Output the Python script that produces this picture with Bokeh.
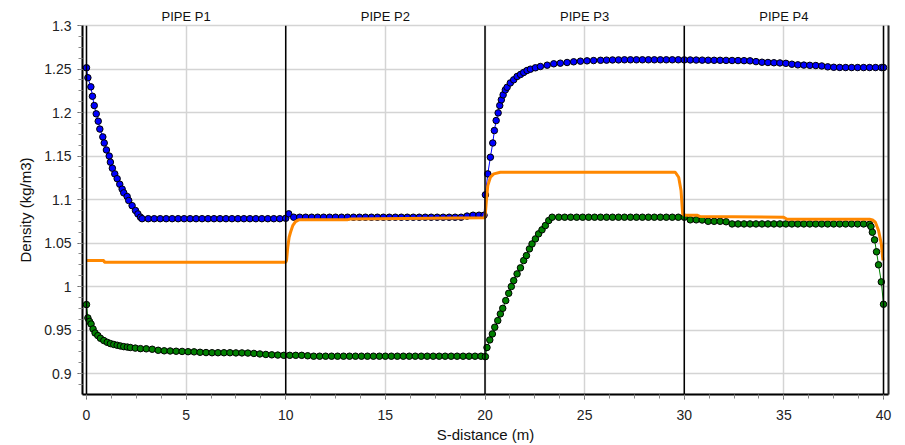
from bokeh.plotting import figure
from bokeh.models import (Range1d, LinearAxis, SingleIntervalTicker, FixedTicker,
                          NumeralTickFormatter, Span)
from bokeh.embed import file_html
from bokeh.resources import INLINE

# ---------------- data ----------------
PIPE_BOUNDS = [0, 10, 20, 30, 40]
PIPE_NAMES = ["PIPE P1", "PIPE P2", "PIPE P3", "PIPE P4"]

BLUE_X = [
    0.0, 0.07, 0.22, 0.30, 0.39, 0.49, 0.59, 0.67, 0.82, 0.89,
    1.00, 1.14, 1.20, 1.30, 1.42, 1.54, 1.67, 1.79, 1.87, 2.04,
    2.12, 2.29, 2.46, 2.58, 2.71, 2.79,
    3.1, 3.4, 3.7, 4.0, 4.3, 4.6, 4.9, 5.2, 5.5, 5.8, 6.1, 6.4,
    6.7, 7.0, 7.3, 7.6, 7.9, 8.2, 8.5, 8.8, 9.1, 9.4, 9.7,
    10.0, 10.15,
    10.4, 10.7, 11.0, 11.3, 11.6, 11.9, 12.2, 12.5, 12.8, 13.1, 13.4,
    13.7, 14.0, 14.3, 14.6, 14.9, 15.2, 15.5, 15.8, 16.1, 16.4, 16.7,
    17.0, 17.3, 17.6, 17.9, 18.2, 18.5, 18.8, 19.1, 19.4, 19.7, 19.95,
    20.02, 20.14, 20.27, 20.39, 20.47, 20.56, 20.66, 20.74, 20.82, 20.91,
    21.02, 21.11, 21.27, 21.44, 21.61, 21.78, 21.94, 22.11, 22.28, 22.53,
    22.78, 23.12, 23.45, 23.78, 24.12, 24.45, 24.79, 25.12,
    25.45, 25.8, 26.1, 26.4, 26.7, 27.0, 27.3, 27.6, 27.9, 28.2, 28.5,
    28.8, 29.1, 29.4, 29.7, 30.0,
    30.3, 30.6, 30.9, 31.2, 31.5, 31.8, 32.1, 32.4, 32.7, 33.0, 33.3,
    33.6, 33.9, 34.2, 34.5, 34.8, 35.1, 35.4, 35.7, 36.0, 36.3, 36.6,
    36.9, 37.2, 37.5, 37.8, 38.1, 38.4, 38.7, 39.0, 39.3, 39.6, 39.9, 40.0,
]
BLUE_Y = [
    1.2514, 1.2400, 1.2295, 1.2187, 1.2080, 1.1985, 1.1900, 1.1810, 1.1720, 1.1650,
    1.1570, 1.1500, 1.1430, 1.1360, 1.1295, 1.1240, 1.1176, 1.1120, 1.1077, 1.1035,
    1.0989, 1.0930, 1.0874, 1.0835, 1.0797, 1.0780,
    1.078, 1.078, 1.078, 1.078, 1.078, 1.078, 1.078, 1.078, 1.078, 1.078, 1.078, 1.078,
    1.078, 1.078, 1.078, 1.078, 1.078, 1.078, 1.078, 1.078, 1.078, 1.078, 1.078,
    1.0785, 1.0836,
    1.0797, 1.0797, 1.0797, 1.0797, 1.0797, 1.0797, 1.0797, 1.0797, 1.0797, 1.0797, 1.0797,
    1.0797, 1.0797, 1.0797, 1.0797, 1.0797, 1.0797, 1.0797, 1.0797, 1.0797, 1.0797, 1.0797,
    1.0797, 1.0797, 1.0797, 1.0797, 1.0797, 1.0797, 1.0797, 1.081, 1.082, 1.082, 1.082,
    1.1054, 1.1295, 1.1486, 1.1650, 1.1793, 1.1908, 1.1996, 1.2080, 1.2146, 1.2203,
    1.2260, 1.2290, 1.2340, 1.2376, 1.2414, 1.2437, 1.2460, 1.2483, 1.2498, 1.2514,
    1.2529, 1.2544, 1.2560, 1.2567, 1.2575, 1.2583, 1.2590, 1.2594,
    1.2597, 1.2600, 1.2602, 1.2604, 1.2605, 1.2606, 1.2606, 1.2606, 1.2606, 1.2606, 1.2606,
    1.2606, 1.2606, 1.2606, 1.2606, 1.2605,
    1.2604, 1.2603, 1.2602, 1.2601, 1.2600, 1.2600, 1.2599, 1.2598, 1.2597, 1.2596, 1.2594,
    1.2585, 1.2578, 1.2575, 1.2572, 1.2570, 1.2565, 1.2555, 1.2548, 1.2545, 1.2542, 1.2540,
    1.2535, 1.2525, 1.2520, 1.2518, 1.2517, 1.2517, 1.2517, 1.2517, 1.2517, 1.2517, 1.2517, 1.2517,
]

GREEN_X = [
    0.0, 0.07, 0.15, 0.23, 0.33, 0.43, 0.57, 0.70, 0.87, 1.04,
    1.20, 1.37, 1.54, 1.70, 1.87, 2.05, 2.20, 2.45, 2.71,
    3.0, 3.3, 3.6, 3.9, 4.2, 4.5, 4.8, 5.1, 5.4, 5.7, 6.0, 6.3,
    6.6, 6.9, 7.2, 7.5, 7.8, 8.1, 8.4, 8.7, 9.0, 9.3, 9.6, 9.9,
    10.2, 10.5, 10.8, 11.1, 11.4, 11.7, 12.0, 12.3, 12.6, 12.9, 13.2,
    13.5, 13.8, 14.1, 14.4, 14.7, 15.0, 15.3, 15.6, 15.9, 16.2, 16.5,
    16.8, 17.1, 17.4, 17.7, 18.0, 18.3, 18.6, 18.9, 19.2, 19.5, 19.8,
    20.02, 20.10, 20.24, 20.37, 20.49, 20.64, 20.77, 20.89, 21.04, 21.19,
    21.32, 21.44, 21.61, 21.78, 21.94, 22.08, 22.23, 22.36, 22.53, 22.69,
    22.86, 23.03, 23.20, 23.37,
    23.7, 24.0, 24.3, 24.6, 24.9, 25.2, 25.5, 25.8, 26.1, 26.4, 26.7,
    27.0, 27.3, 27.6, 27.9, 28.2, 28.5, 28.8, 29.1, 29.4, 29.7, 30.0,
    30.3, 30.6, 30.9, 31.2, 31.5, 31.8, 32.1, 32.4, 32.7, 33.0, 33.3,
    33.6, 33.9, 34.2, 34.5, 34.8, 35.1, 35.4, 35.7, 36.0, 36.3, 36.6,
    36.9, 37.2, 37.5, 37.8, 38.1, 38.4, 38.7, 39.0, 39.3,
    39.37, 39.44, 39.55, 39.65, 39.75, 39.89, 40.0,
]
GREEN_Y = [
    0.9793, 0.9640, 0.9600, 0.9570, 0.9513, 0.9467, 0.9437, 0.9406, 0.9380, 0.9360,
    0.9345, 0.9335, 0.9326, 0.9318, 0.9310, 0.9305, 0.9300, 0.9293, 0.9287,
    0.9285, 0.9280, 0.9268, 0.9262, 0.9260, 0.9257, 0.9255, 0.9252, 0.9250, 0.9245, 0.9242, 0.9240,
    0.9240, 0.9240, 0.9240, 0.9238, 0.9238, 0.9236, 0.9232, 0.9226, 0.9220, 0.9216, 0.9213, 0.9210,
    0.9210, 0.9210, 0.9210, 0.9205, 0.9200, 0.9200, 0.9200, 0.9200, 0.9200, 0.9200, 0.9200,
    0.9200, 0.9200, 0.9200, 0.9200, 0.9200, 0.9200, 0.9200, 0.9200, 0.9200, 0.9200, 0.9200,
    0.9200, 0.9200, 0.9200, 0.9200, 0.9200, 0.9200, 0.9200, 0.9200, 0.9200, 0.9200, 0.9200,
    0.9195, 0.9300, 0.9387, 0.9456, 0.9533, 0.9609, 0.9686, 0.9750, 0.9839, 0.9923,
    1.0000, 1.0069, 1.0146, 1.0215, 1.0299, 1.0356, 1.0433, 1.0490, 1.0548, 1.0606,
    1.0652, 1.0701, 1.0759, 1.0797,
    1.0797, 1.0797, 1.0797, 1.0797, 1.0797, 1.0797, 1.0797, 1.0797, 1.0797, 1.0797, 1.0797,
    1.0797, 1.0797, 1.0797, 1.0797, 1.0797, 1.0797, 1.0797, 1.0797, 1.0797, 1.0797, 1.0797,
    1.0767, 1.0767, 1.0765, 1.0750, 1.0750, 1.0750, 1.0745, 1.0720, 1.0720, 1.0720, 1.0720,
    1.0720, 1.0720, 1.0720, 1.0720, 1.0720, 1.0720, 1.0720, 1.0720, 1.0720, 1.0720, 1.0720,
    1.0720, 1.0720, 1.0720, 1.0720, 1.0720, 1.0720, 1.0720, 1.0720, 1.0715,
    1.0690, 1.0624, 1.0537, 1.0400, 1.0250, 1.0054, 0.9797,
]

ORANGE_X = [
    0.0, 0.87, 0.9, 10.0, 10.04, 10.1, 10.17, 10.24, 10.35, 10.49,
    10.65, 13.08, 13.25, 19.98, 20.02, 20.07, 20.14, 20.27, 20.44, 20.77,
    29.55, 29.72, 29.84, 29.92, 30.0, 30.64, 30.8, 34.99, 35.16, 39.3,
    39.45, 39.59, 39.75, 39.89, 39.97,
]
ORANGE_Y = [
    1.0299, 1.0299, 1.028, 1.028, 1.030, 1.045, 1.0567, 1.0624, 1.070, 1.0747,
    1.0767, 1.0767, 1.0778, 1.079, 1.085, 1.0989, 1.116, 1.1257, 1.1295, 1.1314,
    1.1314, 1.1256, 1.110, 1.0836, 1.082, 1.082, 1.0805, 1.0797, 1.0774, 1.0774,
    1.0765, 1.0739, 1.0644, 1.049, 1.030,
]

for a, b, n in [(BLUE_X, BLUE_Y, "blue"), (GREEN_X, GREEN_Y, "green"),
                (ORANGE_X, ORANGE_Y, "orange")]:
    assert len(a) == len(b), f"{n}: {len(a)} x vs {len(b)} y"

X_RANGE = (-0.2, 40.25)
Y_RANGE = (0.876, 1.3)

# ---------------- figure ----------------
FONT = "Liberation Sans"
p = figure(width=905, height=445, output_backend="svg", toolbar_location=None,
           x_range=Range1d(*X_RANGE), y_range=Range1d(*Y_RANGE),
           min_border_left=82, min_border_right=17, min_border_top=25,
           min_border_bottom=51)
p.background_fill_color = "white"
p.border_fill_color = "white"
p.outline_line_color = "#d4d4d4"
p.outline_line_width = 1.5

# grids
p.xgrid.ticker = SingleIntervalTicker(interval=5)
p.ygrid.ticker = SingleIntervalTicker(interval=0.05)
for g in (p.xgrid, p.ygrid):
    g.grid_line_color = "#d4d4d4"
    g.grid_line_width = 1.5

# bottom axis
xa = p.xaxis[0]
xa.ticker = SingleIntervalTicker(interval=5, num_minor_ticks=4)
xa.axis_label = "S-distance (m)"
# left axis
ya = p.yaxis[0]
ya.ticker = SingleIntervalTicker(interval=0.05, num_minor_ticks=4)
ya.formatter = NumeralTickFormatter(format="0.[00]")
ya.axis_label = "Density (kg/m3)"

for ax in (xa, ya):
    ax.axis_line_color = "black"
    ax.axis_line_width = 2
    ax.major_tick_in = 0
    ax.major_tick_out = 5
    ax.minor_tick_in = 0
    ax.minor_tick_out = 4
    ax.major_tick_line_color = "#555555"
    ax.minor_tick_line_color = "#888888"
    ax.major_label_text_font = FONT
    ax.major_label_text_font_size = "14px"
    ax.major_label_text_color = "#222222"
    ax.axis_label_text_font = FONT
    ax.axis_label_text_font_size = "15px"
    ax.axis_label_text_font_style = "normal"
    ax.axis_label_text_color = "#111111"
xa.major_label_standoff = 10
xa.axis_label_standoff = 3
ya.major_label_standoff = 6
ya.axis_label_standoff = 7

# right edge line
ra = LinearAxis(ticker=FixedTicker(ticks=[]), axis_line_color="#222222",
                axis_line_width=2, major_tick_out=0, major_tick_in=0,
                minor_tick_out=0, minor_tick_in=0, major_label_standoff=0)
p.add_layout(ra, "right")

# pipe labels on an axis above
centers = [(PIPE_BOUNDS[i] + PIPE_BOUNDS[i + 1]) / 2 for i in range(len(PIPE_NAMES))]
ta = LinearAxis(ticker=FixedTicker(ticks=centers),
                major_label_overrides={c: n for c, n in zip(centers, PIPE_NAMES)},
                axis_line_color=None, major_tick_line_color=None,
                minor_tick_line_color=None, major_tick_out=0, major_tick_in=0,
                major_label_standoff=2, major_label_text_font=FONT,
                major_label_text_font_size="13px", major_label_text_color="#111111")
p.add_layout(ta, "above")

# pipe boundaries
for b in PIPE_BOUNDS:
    p.add_layout(Span(location=b, dimension="height", line_color="black",
                      line_width=1.5))

# series
p.line(GREEN_X, GREEN_Y, line_color="#008000", line_width=1)
p.scatter(GREEN_X, GREEN_Y, size=6.5, fill_color="#008000", line_color="black",
          line_width=1)
p.line(BLUE_X, BLUE_Y, line_color="#0000ff", line_width=1)
p.scatter(BLUE_X, BLUE_Y, size=6.5, fill_color="#0000ff", line_color="black",
          line_width=1)
p.line(ORANGE_X, ORANGE_Y, line_color="#ff8800", line_width=3)

open("out.html", "w").write(file_html(p, INLINE))
